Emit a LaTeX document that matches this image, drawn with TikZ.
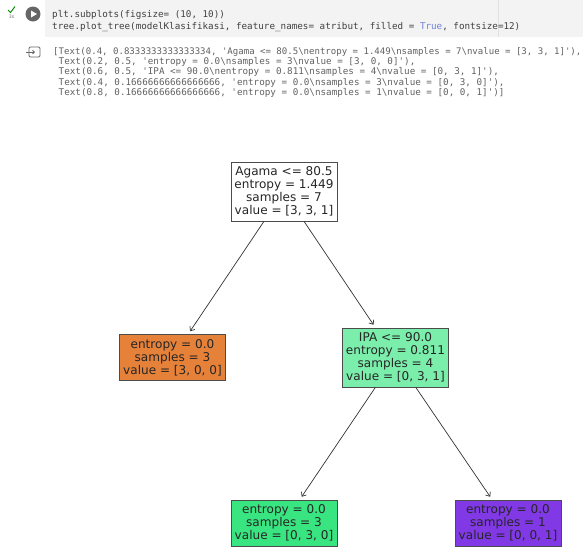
\documentclass[tikz,border=0pt]{standalone}
\usepackage{fontspec}
\setsansfont{DejaVu Sans}
\setmonofont{DejaVu Sans Mono}
\usetikzlibrary{arrows.meta}

\definecolor{cellgray}{HTML}{F3F3F3}
\definecolor{truecol}{HTML}{6F80DC}
\definecolor{orangeleaf}{HTML}{E58139}
\definecolor{lightgreen}{HTML}{7BEEAB}
\definecolor{greenleaf}{HTML}{39E581}
\definecolor{purpleleaf}{HTML}{8139E5}

\newcommand{\nesc}{\textbackslash n}

\begin{document}
\begin{tikzpicture}[x=0.03cm, y=-0.03cm,
  treebox/.style={draw=black!70, line width=0.6pt, align=center, text=black!85,
    font=\sffamily\fontsize{10.3}{11.1}\selectfont, minimum width=3.18cm, inner sep=0pt},
  splitbox/.style={treebox, minimum height=1.77cm},
  leafbox/.style={treebox, minimum height=1.38cm},
  codetext/.style={anchor=west, inner sep=0pt, text=black!75,
    font=\ttfamily\fontsize{7.9}{9}\selectfont},
  outtext/.style={codetext, text=black!62},
  treearrow/.style={draw=black!80, line width=0.6pt,
    -{Straight Barb[length=3pt,width=5pt]}, shorten >=3pt}]

\useasboundingbox (0,0) rectangle (583,547);
\clip (0,0) rectangle (583,547);

% CODE CELL
  \fill[cellgray] (45,0) rectangle (583,37);
  \draw[black!12] (498,0) -- (498,37);
  \draw[green!55!black, line width=0.8pt] (8,10) -- (10.5,12.5) -- (15,6.5);
  \node[font=\sffamily\fontsize{4}{4}\selectfont, text=black!55, inner sep=0pt] (runtime) at (11.5,17) {3s};
  \fill[black!60] (33,14) circle (0.225cm);
  \fill[white] (31,10.5) -- (31,17.5) -- (37,14) -- cycle;

  \node[codetext] (code1) at (52,15) {plt.subplots(figsize= (10, 10))};
  \node[codetext] (code2) at (52,27) {tree.plot\_tree(modelKlasifikasi, feature\_names= atribut, filled = \textcolor{truecol}{True}, fontsize=12)};

% OUTPUT
  \draw[black!60, line width=0.8pt, rounded corners=1pt] (29,47) rectangle (40,57);
  \draw[black!60, line width=0.8pt, -{Straight Barb[length=1.5pt,width=3pt]}] (26,52) -- (35,52);

  \node[outtext, font=\ttfamily\fontsize{7.72}{9}\selectfont] (out1) at (53,51.7) {[Text(0.4, 0.8333333333333334, 'Agama <= 80.5\nesc entropy = 1.449\nesc samples = 7\nesc value = [3, 3, 1]'),};
  \node[outtext] (out2) at (58.5,62) {Text(0.2, 0.5, 'entropy = 0.0\nesc samples = 3\nesc value = [3, 0, 0]'),};
  \node[outtext] (out3) at (58.5,72.4) {Text(0.6, 0.5, 'IPA <= 90.0\nesc entropy = 0.811\nesc samples = 4\nesc value = [0, 3, 1]'),};
  \node[outtext] (out4) at (58.5,82.8) {Text(0.4, 0.16666666666666666, 'entropy = 0.0\nesc samples = 3\nesc value = [0, 3, 0]'),};
  \node[outtext] (out5) at (58.5,93.2) {Text(0.8, 0.16666666666666666, 'entropy = 0.0\nesc samples = 1\nesc value = [0, 0, 1]')]};

% TREE NODES
  \node[splitbox, fill=white] (root) at (284,191.5) {Agama <= 80.5\\entropy = 1.449\\samples = 7\\value = [3, 3, 1]};
  \node[leafbox, fill=orangeleaf] (left) at (172.5,357.5) {entropy = 0.0\\samples = 3\\value = [3, 0, 0]};
  \node[splitbox, fill=lightgreen] (right) at (395.5,357.5) {IPA <= 90.0\\entropy = 0.811\\samples = 4\\value = [0, 3, 1]};
  \node[leafbox, fill=greenleaf] (rleft) at (284,523) {entropy = 0.0\\samples = 3\\value = [0, 3, 0]};
  \node[leafbox, fill=purpleleaf] (rright) at (508,523) {entropy = 0.0\\samples = 1\\value = [0, 0, 1]};

% EDGES
  \draw[treearrow] (root) -- (left);
  \draw[treearrow] (root) -- (right);
  \draw[treearrow] (right) -- (rleft);
  \draw[treearrow] (right) -- (rright);

\end{tikzpicture}
\end{document}
